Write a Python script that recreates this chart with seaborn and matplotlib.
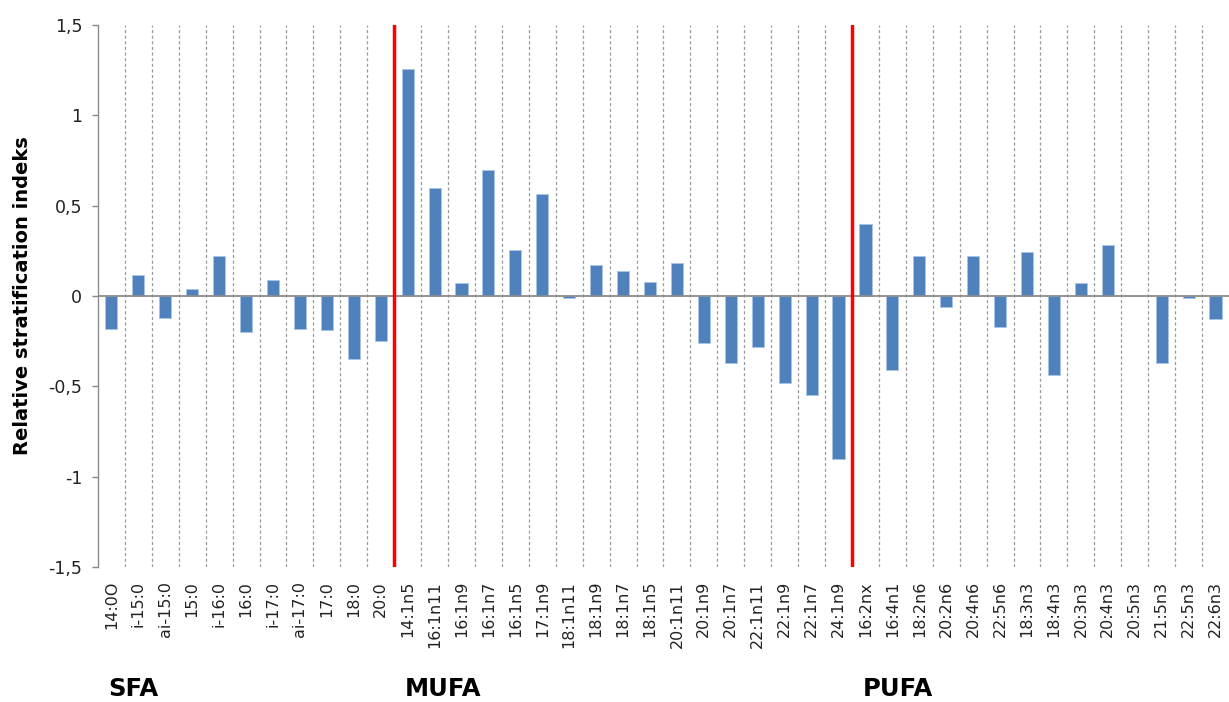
import matplotlib
matplotlib.use("Agg")
import matplotlib.pyplot as plt
import matplotlib.transforms as mtransforms
from matplotlib.ticker import FixedLocator, FuncFormatter
import seaborn as sns
import pandas as pd

categories = ["14:0O", "i-15:0", "ai-15:0", "15:0", "i-16:0", "16:0", "i-17:0", "ai-17:0",
              "17:0", "18:0", "20:0",
              "14:1n5", "16:1n11", "16:1n9", "16:1n7", "16:1n5", "17:1n9", "18:1n11",
              "18:1n9", "18:1n7", "18:1n5", "20:1n11", "20:1n9", "20:1n7", "22:1n11",
              "22:1n9", "22:1n7", "24:1n9",
              "16:2nx", "16:4n1", "18:2n6", "20:2n6", "20:4n6", "22:5n6", "18:3n3",
              "18:4n3", "20:3n3", "20:4n3", "20:5n3", "21:5n3", "22:5n3", "22:6n3"]
values = [-0.18, 0.115, -0.12, 0.04, 0.22, -0.20, 0.09, -0.18, -0.19, -0.35, -0.25,
          1.255, 0.60, 0.07, 0.70, 0.255, 0.565, -0.01, 0.17, 0.14, 0.08, 0.18,
          -0.26, -0.37, -0.28, -0.48, -0.55, -0.90,
          0.40, -0.41, 0.22, -0.063, 0.22, -0.17, 0.245, -0.435, 0.07, 0.28, 0.0,
          -0.37, -0.01, -0.13]
groups = ["SFA", "MUFA", "PUFA"]
group_sizes = [11, 17, 14]
y_ticks = [-1.5, -1, -0.5, 0, 0.5, 1, 1.5]

df = pd.DataFrame({"cat": categories, "val": values})

sns.set_theme(style="white")
plt.rcParams['font.family'] = ['DejaVu Sans']

fig = plt.figure(figsize=(12.29, 7.02), dpi=100)
ax = fig.add_axes([0.0797, 0.1923, 0.9203, 0.7721])

sns.barplot(data=df, x="cat", y="val", color="#4F81BD", width=0.45,
            edgecolor="#A9C4E6", linewidth=0.6, saturation=1, ax=ax)

ax.set_ylim(-1.5, 1.5)
ax.set_xlim(-0.5, len(categories) - 0.5)
ax.set_yticks(y_ticks)
ax.yaxis.set_major_formatter(FuncFormatter(lambda v, p: ("%g" % v).replace(".", ",")))
ax.tick_params(axis="y", labelsize=12.5, colors="#222222", length=4.3, width=1,
               direction="out", left=True, color="#888888", pad=7)
ax.tick_params(axis="x", labelsize=11.5, labelrotation=90, length=0, colors="#222222",
               pad=10)

# dashed separators between categories
ax.xaxis.set_minor_locator(FixedLocator([i + 0.5 for i in range(len(categories) - 1)]))
ax.grid(which="minor", axis="x", linestyle=(0, (2.5, 2)), color="#9A9A9A", linewidth=0.9)
ax.grid(which="major", axis="both", visible=False)
ax.tick_params(axis="x", which="minor", length=0)

ax.axhline(0, color="#8C8C8C", linewidth=1.3, zorder=1)

# group separators in red
b = -0.5
bounds = []
for s in group_sizes:
    bounds.append(b)
    b += s
for bd in bounds[1:]:
    ax.axvline(bd, color="#FF0000", linewidth=2.5, zorder=3)

for sp in ["top", "right", "bottom"]:
    ax.spines[sp].set_visible(False)
ax.spines["left"].set_color("#8C8C8C")
ax.spines["left"].set_linewidth(1)

ax.set_xlabel("")
ax.set_ylabel("Relative stratification indeks", fontsize=14, fontweight="bold",
              color="black", labelpad=12)

trans = mtransforms.blended_transform_factory(ax.transData, ax.transAxes)
for g, bd in zip(groups, bounds):
    ax.text(bd + 0.4, -0.225, g, transform=trans, fontsize=17.5,
            fontweight="bold", color="black", ha="left", va="center")

fig.savefig("out.png", dpi=100)
